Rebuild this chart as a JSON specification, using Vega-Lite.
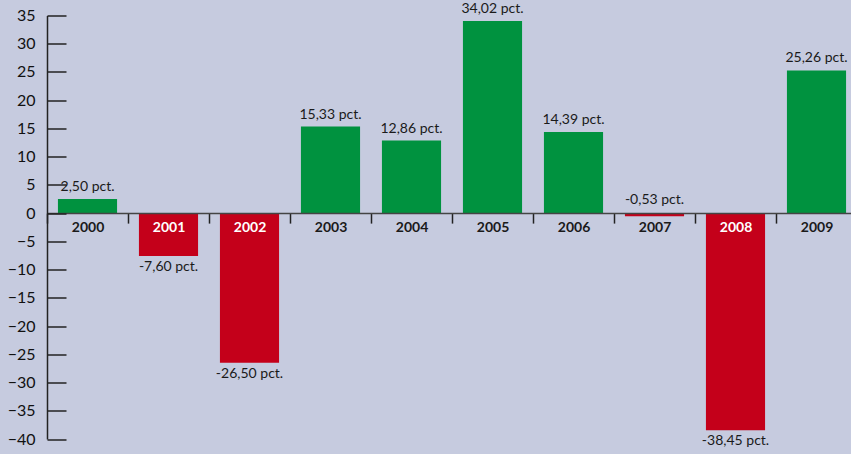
{
  "$schema": "https://vega.github.io/schema/vega-lite/v6.json",
  "width": 804,
  "height": 423.5,
  "autosize": {"type": "none"},
  "padding": {"left": 47, "top": 15.5, "right": 0, "bottom": 15},
  "background": "#C6CBDF",
  "config": {
    "view": {"stroke": null},
    "font": "Lato",
    "axis": {"grid": false, "title": null}
  },
  "data": {
    "values": [
      {"year": "2000", "value": 2.50, "label": "2,50 pct."},
      {"year": "2001", "value": -7.60, "label": "-7,60 pct."},
      {"year": "2002", "value": -26.50, "label": "-26,50 pct."},
      {"year": "2003", "value": 15.33, "label": "15,33 pct."},
      {"year": "2004", "value": 12.86, "label": "12,86 pct."},
      {"year": "2005", "value": 34.02, "label": "34,02 pct."},
      {"year": "2006", "value": 14.39, "label": "14,39 pct."},
      {"year": "2007", "value": -0.53, "label": "-0,53 pct."},
      {"year": "2008", "value": -38.45, "label": "-38,45 pct."},
      {"year": "2009", "value": 25.26, "label": "25,26 pct."}
    ]
  },
  "encoding": {
    "x": {
      "field": "year",
      "type": "ordinal",
      "scale": {"paddingInner": 0, "paddingOuter": 0, "range": [0, 810]},
      "axis": {
        "orient": "bottom",
        "offset": -225.9,
        "zindex": 1,
        "labelAngle": 0,
        "tickBand": "extent",
        "tickSize": 10,
        "tickWidth": 1.5,
        "tickColor": "#222222",
        "domainColor": "#444444",
        "domainWidth": 1.5,
        "labelFont": "Lato",
        "labelFontWeight": "bold",
        "labelFontSize": 14,
        "labelPadding": -3,
        "labelColor": {
          "condition": {"test": "indexof(['2001','2002','2008'], datum.value) >= 0", "value": "#ffffff"},
          "value": "#1a1a1a"
        }
      }
    },
    "y": {
      "field": "value",
      "type": "quantitative",
      "scale": {"domain": [-40, 35], "nice": false, "zero": false},
      "axis": {
        "values": [-40, -35, -30, -25, -20, -15, -10, -5, 0, 5, 10, 15, 20, 25, 30, 35],
        "zindex": 1,
        "tickSize": -19,
        "tickWidth": 1.5,
        "tickColor": "#222222",
        "domainColor": "#222222",
        "domainWidth": 1.5,
        "labelFontSize": 16,
        "labelColor": "#111111",
        "labelPadding": 31
      }
    }
  },
  "layer": [
    {
      "mark": {"type": "bar", "width": {"band": 0.73}},
      "encoding": {
        "color": {
          "condition": {"test": "datum.value < 0", "value": "#C4001A"},
          "value": "#00923F"
        }
      }
    },
    {
      "transform": [{"filter": "datum.value >= 0"}],
      "mark": {"type": "text", "baseline": "bottom", "dy": -5, "fontSize": 14, "color": "#1a1a1a"},
      "encoding": {"text": {"field": "label"}}
    },
    {
      "transform": [{"filter": "datum.value < 0 && datum.value >= -1"}],
      "mark": {"type": "text", "baseline": "bottom", "dy": -6, "fontSize": 14, "color": "#1a1a1a"},
      "encoding": {
        "y": {"datum": 0, "type": "quantitative"},
        "text": {"field": "label"}
      }
    },
    {
      "transform": [{"filter": "datum.value < -1"}],
      "mark": {"type": "text", "baseline": "top", "dy": 4, "fontSize": 14, "color": "#1a1a1a"},
      "encoding": {"text": {"field": "label"}}
    }
  ]
}
